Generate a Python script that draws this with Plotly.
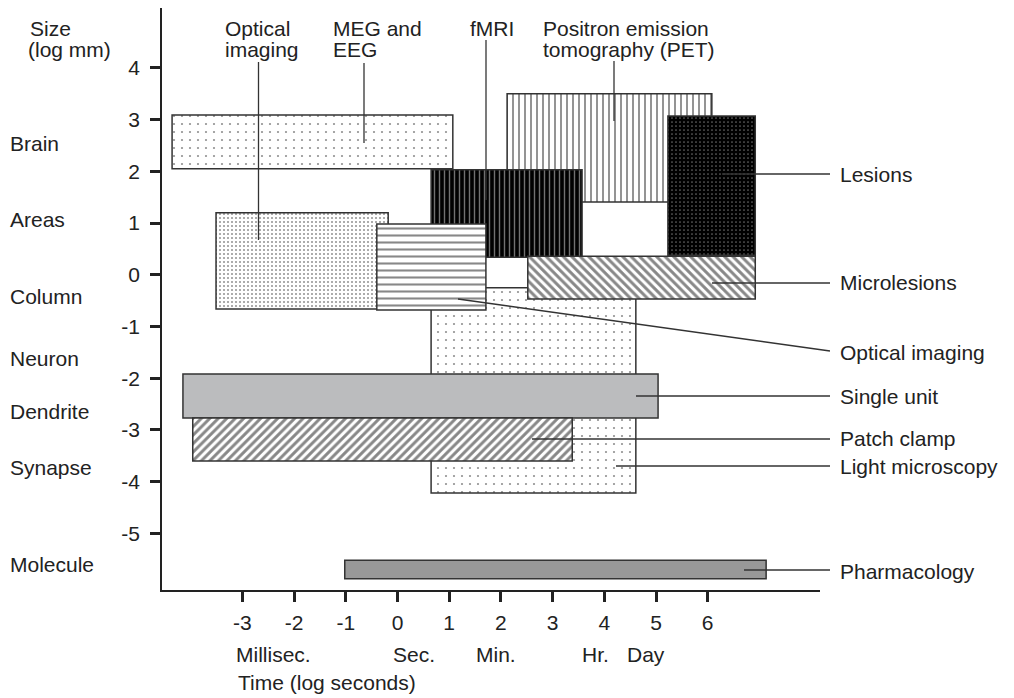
import plotly.graph_objects as go

# ---------------- data (log units) ----------------
techniques = ["MEG and EEG", "PET", "Optical imaging (dye)", "Light microscopy", "fMRI",
              "Lesions", "Microlesions", "Optical imaging (VSD)", "Single unit",
              "Patch clamp", "Pharmacology"]
time_min = [-4.36, 2.12, -3.51, 0.65, 0.65, 5.23, 2.52, -0.40, -4.15, -3.96, -1.02]
time_max = [1.07, 6.08, -0.18, 4.61, 3.57, 6.92, 6.92, 1.71, 5.04, 3.38, 7.13]
size_min = [2.05, 1.41, -0.66, -4.22, 0.34, 0.38, -0.47, -0.68, -2.77, -3.60, -5.88]
size_max = [3.09, 3.50, 1.20, -0.25, 2.03, 3.07, 0.36, 0.98, -1.92, -2.77, -5.52]

x_ticks = [-3, -2, -1, 0, 1, 2, 3, 4, 5, 6]
x_tick_text = ["-3", "-2", "-1", "0", "1", "2", "3", "4", "5", "6"]
y_ticks = [4, 3, 2, 1, 0, -1, -2, -3, -4, -5]
y_tick_text = ["4", "3", "2", "1", "0", "-1", "-2", "-3", "-4", "-5"]

size_names = ["Brain", "Areas", "Column", "Neuron", "Dendrite", "Synapse", "Molecule"]
time_names = ["Millisec.", "Sec.", "Min.", "Hr.", "Day"]

# ---------------- styles ----------------
FONT = "Liberation Sans, Arial, Helvetica, sans-serif"
TXT = "#222222"
EDGE = "#333333"
styles = [
    dict(color="white", pattern=dict(shape=".", bgcolor="white", fgcolor="#222", size=8, solidity=0.06)),
    dict(color="white", pattern=dict(shape="|", bgcolor="white", fgcolor="#111", size=6, solidity=0.3)),
    dict(color="white", pattern=dict(shape=".", bgcolor="white", fgcolor="#222", size=4, solidity=0.2)),
    dict(color="white", pattern=dict(shape=".", bgcolor="white", fgcolor="#222", size=8, solidity=0.06)),
    dict(color="#000", pattern=dict(shape="|", bgcolor="#000", fgcolor="#e0e0e0", size=5, solidity=0.28)),
    dict(color="#000", pattern=dict(shape=".", bgcolor="#000", fgcolor="#d0d0d0", size=4, solidity=0.15)),
    dict(color="white", pattern=dict(shape="\\", bgcolor="white", fgcolor="#111", size=6, solidity=0.5)),
    dict(color="white", pattern=dict(shape="-", bgcolor="white", fgcolor="#111", size=7, solidity=0.3)),
    dict(color="#bbbcbe", pattern=dict(shape="")),
    dict(color="white", pattern=dict(shape="/", bgcolor="white", fgcolor="#111", size=6, solidity=0.5)),
    dict(color="#989898", pattern=dict(shape="")),
]

# page offset (default body margin) and layout in page pixels
OFF = 8
W, H = 1014 - OFF, 698 - OFF
PL, PR, PT, PB = 162 - OFF, 820 - OFF, 8 - OFF, 590 - OFF
XR = [-4.555, 8.172]
YR = [-6.097, 5.16]

def pxx(px):
    return (px - OFF - PL) / (PR - PL)

def pxy(py):
    return (PB - (py - OFF)) / (PB - PT)

fig = go.Figure()
for i, name in enumerate(techniques):
    st = styles[i]
    fig.add_trace(go.Bar(
        orientation="h",
        y=[(size_min[i] + size_max[i]) / 2],
        x=[time_max[i] - time_min[i]],
        base=[time_min[i]],
        width=[size_max[i] - size_min[i]],
        name=name,
        marker=dict(color=st["color"], pattern=st["pattern"],
                    line=dict(color=EDGE, width=1.5)),
        hoverinfo="skip",
        showlegend=False,
    ))

shapes = []
def line(x0, y0, x1, y1):
    shapes.append(dict(type="line", xref="paper", yref="paper",
                       x0=pxx(x0), y0=pxy(y0), x1=pxx(x1), y1=pxy(y1),
                       line=dict(color=EDGE, width=1.3), layer="above"))

# top leader lines
line(258.5, 62, 258.5, 240)
line(364, 63, 364, 143)
line(486, 40, 486, 200)
line(614, 61, 614, 121)
# right leader lines
line(722, 174, 830, 174)
line(712, 283, 830, 283)
line(458, 299, 830, 351)
line(636, 396, 830, 396)
line(532, 439, 830, 439)
line(616, 466, 830, 466)
line(744, 570, 830, 570)

annotations = []
def label(text, x, y, anchor="left"):
    annotations.append(dict(text=text, xref="paper", yref="paper", x=pxx(x), y=pxy(y),
                            xanchor=anchor, yanchor="middle", showarrow=False,
                            font=dict(family=FONT, size=21, color=TXT), borderpad=0))

# top labels
label("Size", 29, 29)
label("(log mm)", 27, 50)
label("Optical", 224, 29)
label("imaging", 224, 50)
label("MEG and", 332, 29)
label("EEG", 332, 50)
label("fMRI", 469, 29)
label("Positron emission", 542, 29)
label("tomography (PET)", 542, 50)

# right labels
for txt, y in [("Lesions", 174), ("Microlesions", 282), ("Optical imaging", 352),
               ("Single unit", 396), ("Patch clamp", 438), ("Light microscopy", 466),
               ("Pharmacology", 571)]:
    label(txt, 839, y)

# left size names
for txt, y in zip(size_names, [144, 219, 296, 358, 411, 467, 564]):
    label(txt, 9, y)

# time names
for txt, x in zip(time_names, [235, 392, 475, 581, 626]):
    label(txt, x, 654)
label("Time (log seconds)", 237, 683)

fig.update_layout(
    width=W, height=H,
    margin=dict(l=PL, r=W - PR, t=PT, b=H - PB, pad=0),
    paper_bgcolor="white", plot_bgcolor="white",
    barmode="overlay",
    shapes=shapes,
    annotations=annotations,
    xaxis=dict(range=XR, tickmode="array", tickvals=x_ticks, ticktext=x_tick_text,
               showgrid=False, zeroline=False, showline=True, linecolor=TXT, linewidth=1.5,
               ticks="outside", ticklen=10, tickwidth=3, tickcolor=TXT,
               ticklabelstandoff=3,
               tickfont=dict(family=FONT, size=21, color=TXT), fixedrange=True),
    yaxis=dict(range=YR, tickmode="array", tickvals=y_ticks, ticktext=y_tick_text,
               showgrid=False, zeroline=False, showline=True, linecolor=TXT, linewidth=1.5,
               ticks="outside", ticklen=10, tickwidth=3, tickcolor=TXT,
               ticklabelstandoff=6,
               tickfont=dict(family=FONT, size=21, color=TXT), fixedrange=True),
)

fig.write_html("out.html")
